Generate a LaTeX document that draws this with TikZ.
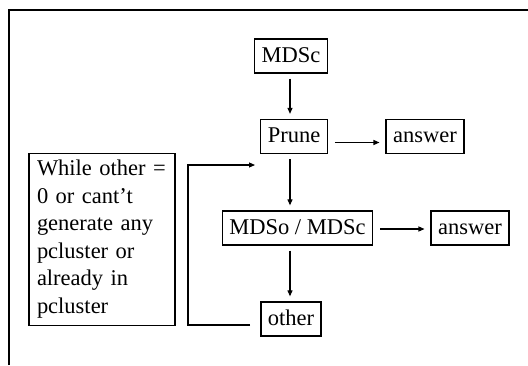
\documentclass[tikz,border=0pt]{standalone}
\usepackage{fontspec}
\setmainfont{Liberation Serif}
\usepackage{tikz}
\usetikzlibrary{arrows.meta}
\usetikzlibrary{positioning}

\begin{document}
\begin{tikzpicture}[x=1pt, y=-1pt]
    \tikzstyle{blk}=[draw, line width=1.3pt, inner xsep=7pt, inner ysep=6pt, text height=17pt, text depth=5pt, font=\fontsize{22.5}{27.5}\selectfont]
    \tikzstyle{arr}=[line width=1.1pt, -{Triangle[length=6pt, width=5pt]}]
    \useasboundingbox (0,0) rectangle (528,365);
    % frame, cut at right and bottom
    \draw[line width=1.3pt] (9,365) -- (9,10) -- (528,10);
    \node[blk] (mdsc) at (291,56) {MDSc} ;
    \node[blk] (prune) at (294,136.5) {Prune} ;
    \node[blk] (ans1) at (425,136.5) {answer} ;
    \node[blk] (mdso) at (297.5,228) {MDSo / MDSc} ;
    \node[blk] (ans2) at (470,228) {answer} ;
    \node[blk] (other) at (291,319) {other} ;
    \node[draw, line width=1.3pt, text width=130pt, align=left, inner xsep=8pt, inner ysep=7pt, font=\fontsize{22.5}{27.5}\selectfont] (cond) at (102,239.3)
      {While other~=\\0 or cant’t\\generate any\\pcluster or\\already in\\pcluster};
    \coordinate (loopin) at (255,165);
    %\draw (mdsc) -- (prune) -- (mdso) -- (other);
    \foreach \i/\j in {mdsc/prune, prune/mdso, mdso/other}
    {\draw[arr, shorten <=5pt, shorten >=5pt] ([xshift=-1pt]\i.south -| mdsc) -- ([xshift=-1pt]\j.north -| mdsc);}
    \draw[arr, shorten <=7pt, shorten >=6pt] ([yshift=-6pt]prune.east) -- ([yshift=-6pt]prune.east -| ans1.west);
    \draw[arr, shorten <=7pt, shorten >=6pt] ([yshift=-1pt]mdso.east) -- ([yshift=-1pt]mdso.east -| ans2.west);
    \draw[arr, shorten <=10pt] ([yshift=-6pt]other.west) -| ([xshift=-67pt]loopin) -- (loopin);
\end{tikzpicture}
\end{document}
